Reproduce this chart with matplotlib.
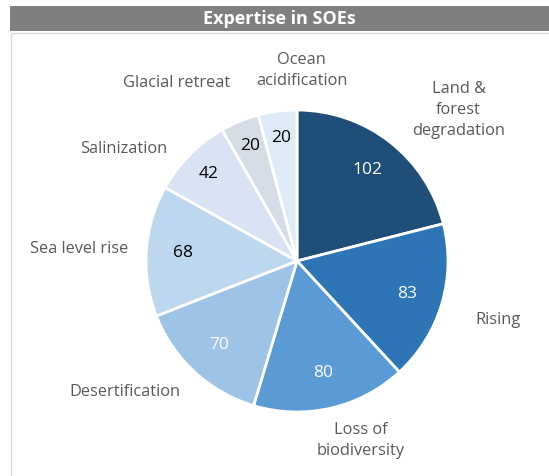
import matplotlib.pyplot as plt
from matplotlib.patches import Rectangle
import numpy as np

# data
categories = ['Land &\nforest\ndegradation', 'Rising', 'Loss of\nbiodiversity',
              'Desertification', 'Sea level rise', 'Salinization',
              'Glacial retreat', 'Ocean\nacidification']
values = [102, 83, 80, 70, 68, 42, 20, 20]
colors = ['#1F4E79', '#2E75B6', '#5B9BD5', '#9DC3E6', '#BDD7EE', '#DAE3F3',
          '#D6DCE5', '#DEEBF7']
value_colors = ['white', 'white', 'white', 'white', 'black', 'black', 'black', 'black']

# label layout (pie units, radius = 1)
label_pos = [(1.07, 1.0), (1.33, -0.39), (0.42, -1.19), (-1.14, -0.87),
             (-1.44, 0.08), (-1.15, 0.74), (-0.80, 1.18), (0.03, 1.26)]

W, H = 549, 476
fig = plt.figure(figsize=(W / 100, H / 100), dpi=100)
fig.patch.set_facecolor('white')

# title bar and panel frame
fig.patches.append(Rectangle((10 / W, 1 - 31 / H), 1, 25 / H, transform=fig.transFigure,
                             facecolor='#7F7F7F', edgecolor='none'))
fig.text((10 + W) / 2 / W, 1 - 18.5 / H, 'Expertise in SOEs', color='white',
         fontsize=13, fontweight='bold', family='Open Sans', ha='center', va='center')
fig.patches.append(Rectangle((10.5 / W, -0.1), 1, (H - 33) / H + 0.1, transform=fig.transFigure,
                             facecolor='none', edgecolor='#D9D9D9', linewidth=1))

cx, cy, r = 297, 261, 151
ax = fig.add_axes([0, 0, 1, 1])
ax.set_facecolor('none')

wedges, texts = ax.pie(values, colors=colors, startangle=90, counterclock=False,
                       wedgeprops=dict(edgecolor='white', linewidth=2))
ax.set_xlim(-cx / r, (W - cx) / r)
ax.set_ylim(-(H - cy) / r, cy / r)
ax.set_aspect('auto')
ax.axis('off')

# value labels
for w, v, c in zip(wedges, values, value_colors):
    ang = np.deg2rad((w.theta1 + w.theta2) / 2)
    d = 0.76 if v > 50 else 0.82
    ax.text(d * np.cos(ang), d * np.sin(ang), str(v), color=c, fontsize=12.5,
            family='Open Sans', ha='center', va='center')

# category labels
for name, (x, y) in zip(categories, label_pos):
    ax.text(x, y, name, color='#595959', fontsize=11.8, family='Open Sans',
            ha='center', va='center', linespacing=1.45)

plt.savefig('out.png', dpi=100)
